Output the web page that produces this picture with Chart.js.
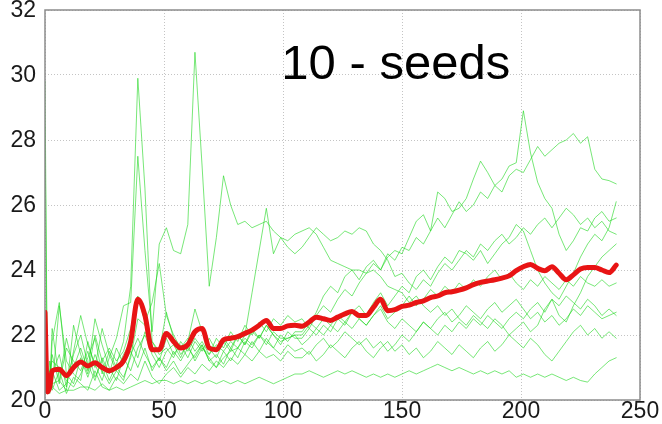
<!DOCTYPE html>
<html>
<head>
<meta charset="utf-8">
<script src="https://cdn.jsdelivr.net/npm/chart.js@4"></script>
<style>
  html, body { margin: 0; padding: 0; background: #ffffff; }
  #wrap { width: 662px; height: 424px; }
</style>
</head>
<body>
<div id="wrap"><canvas id="c" width="662" height="424"></canvas></div>
<script>
// iteration at which each sample was taken
const sampleX = [0, 1, 2, 3,
  6, 9, 12, 15, 18, 21, 24, 27, 30, 33,
  36, 39, 42, 45, 48, 51, 54, 57, 60, 63,
  66, 69, 72, 75, 78, 81, 84, 87, 90, 93,
  96, 99, 102, 105, 108, 111, 114, 117, 120, 123,
  126, 129, 132, 135, 138, 141, 144, 147, 150, 153,
  156, 159, 162, 165, 168, 171, 174, 177, 180, 183,
  186, 189, 192, 195, 198, 201, 204, 207, 210, 213,
  216, 219, 222, 225, 228, 231, 234, 237, 240];

// average over the ten seeds
const meanRun = [22.7, 20.25, 20.4, 20.9,
  20.95, 20.75, 21.0, 21.17, 21.05, 21.15, 21.0, 20.9, 21.0, 21.2,
  21.8, 23.1, 22.6, 21.55, 21.55, 22.05, 21.8, 21.6, 21.7, 22.1,
  22.2, 21.6, 21.55, 21.85, 21.9, 21.95, 22.05, 22.15, 22.3, 22.45,
  22.2, 22.2, 22.28, 22.3, 22.27, 22.4, 22.55, 22.5, 22.45, 22.55,
  22.65, 22.72, 22.6, 22.6, 22.85, 23.1, 22.75, 22.78, 22.88, 22.92,
  23.0, 23.05, 23.15, 23.2, 23.3, 23.33, 23.38, 23.45, 23.55, 23.62,
  23.66, 23.7, 23.75, 23.82, 23.98, 24.1, 24.17, 24.05, 23.98, 24.1,
  23.9, 23.7, 23.85, 24.03, 24.08, 24.08, 24.0, 23.92, 24.15];

// individual seeds
const seed1 = [20.8, 20.3, 20.6, 21.4,
  20.5, 21.6, 21.2, 20.9, 21.5, 20.7, 21.2, 20.6, 21.1, 21.8,
  23.5, 29.9, 26.5, 21.8, 21.4, 21.6, 21.3, 21.8, 21.5, 21.9,
  21.6, 21.4, 21.7, 21.5, 21.8, 21.6, 21.9, 21.7, 22.0, 21.8,
  21.6, 22.0, 21.8, 22.1, 22.1, 22.4, 22.2, 22.5, 22.3, 22.6,
  22.4, 22.7, 22.5, 22.3, 22.6, 22.8, 22.4, 22.2, 22.5, 22.3,
  22.1, 22.4, 22.2, 22.5, 22.7, 22.4, 22.6, 22.9, 22.7, 22.5,
  22.8, 23.0, 22.7, 22.9, 23.1, 22.8, 22.5, 22.7, 22.4, 22.6,
  22.3, 22.5, 22.8, 22.6, 22.9, 22.7, 22.5, 22.6, 22.7];
const seed2 = [21.5, 20.2, 21.2, 20.8,
  21.4, 20.4, 21.5, 22.6, 21.7, 21.1, 20.6, 21.3, 21.9, 22.9,
  23.0, 27.5, 24.6, 22.1, 24.8, 25.3, 24.6, 24.5, 25.4, 30.7,
  27.2, 23.5, 25.0, 26.9, 26.0, 25.4, 25.5, 25.3, 25.4, 25.5,
  25.2, 25.0, 24.9, 25.1, 25.2, 25.3, 25.1, 24.7, 24.3, 24.2,
  24.1, 24.0, 24.0, 23.9, 24.0, 23.8, 23.5, 23.4, 23.3, 23.0,
  23.2, 22.9, 22.7, 22.9, 22.6, 22.8, 22.5, 22.3, 22.6, 22.4,
  22.2, 22.5, 22.3, 22.0, 22.2, 22.4, 22.1, 22.3, 22.8, 23.1,
  22.9, 23.2, 23.0, 22.8, 23.1, 22.9, 22.6, 22.8, 22.6];
const seed3 = [29.8, 20.4, 20.3, 21.8,
  23.0, 20.8, 20.5, 21.3, 20.7, 21.4, 20.9, 20.5, 20.9, 20.6,
  21.4, 21.9, 21.4, 21.0, 21.3, 20.9, 21.2, 20.8, 21.1, 21.4,
  21.7, 21.2, 21.0, 21.3, 21.5, 21.6, 22.0, 23.3, 24.6, 25.9,
  24.5, 25.0, 24.7, 24.5, 24.7, 25.0, 25.3, 25.1, 24.9, 25.0,
  25.2, 25.1, 25.3, 25.2, 24.8, 24.6, 24.3, 23.8, 23.9, 23.6,
  23.4, 23.7, 23.5, 23.9, 24.2, 24.0, 24.3, 24.6, 24.4, 24.8,
  24.6, 24.9, 25.1, 24.8, 25.0, 25.3, 25.1, 25.4, 25.6, 25.3,
  25.6, 25.9, 25.7, 25.4, 25.6, 25.3, 25.5, 25.2, 25.1];
const seed4 = [28.4, 20.2, 20.8, 20.5,
  20.6, 21.9, 21.0, 21.6, 20.9, 22.5, 21.7, 21.0, 20.6, 21.3,
  20.9, 21.6, 22.0, 21.4, 21.0, 21.5, 21.7, 21.3, 21.8, 22.8,
  22.1, 21.6, 21.3, 21.8, 21.5, 22.0, 21.7, 22.1, 21.9, 22.3,
  22.0, 21.8, 21.9, 22.0, 22.0, 22.3, 22.7, 23.2, 23.5, 23.3,
  23.8, 24.0, 23.7, 24.1, 24.3, 24.0, 24.4, 24.6, 24.5, 25.0,
  25.5, 25.7, 25.2, 26.4, 26.2, 25.8, 25.9, 26.2, 26.8, 27.35,
  27.0, 26.6, 26.8, 27.2, 27.3, 28.9, 27.6, 26.7, 26.2, 25.9,
  25.1, 24.6, 24.9, 25.3, 25.2, 25.6, 25.8, 25.5, 25.6];
const seed5 = [22.6, 20.3, 20.4, 22.2,
  20.6, 20.3, 22.3, 21.4, 20.8, 22.0, 21.2, 21.6, 21.2, 21.5,
  22.2, 23.2, 22.4, 23.0, 24.2, 22.6, 22.0, 21.6, 21.9, 21.5,
  21.8, 21.4, 21.9, 21.6, 22.1, 21.8, 22.3, 22.0, 22.4, 22.1,
  22.5, 22.3, 22.6, 22.4, 22.5, 22.2, 22.6, 22.9, 22.7, 23.1,
  23.4, 23.2, 23.6, 23.9, 24.2, 24.0, 24.5, 24.3, 24.7, 24.6,
  25.0, 24.8, 25.2, 25.6, 25.3, 25.7, 26.1, 25.8, 26.0, 26.4,
  26.2, 26.6, 26.4, 26.9, 27.1, 27.0, 27.4, 27.8, 27.5, 27.7,
  27.9, 28.0, 28.2, 27.9, 28.1, 27.1, 26.8, 26.75, 26.65];
const seed6 = [21.0, 20.2, 20.9, 20.4,
  22.9, 21.2, 20.8, 20.6, 21.8, 21.0, 22.2, 21.4, 20.9, 21.4,
  21.8, 21.3, 22.1, 21.6, 21.2, 21.9, 21.4, 21.7, 21.3, 21.8,
  21.5, 21.9, 21.5, 21.9, 21.6, 22.0, 21.7, 22.2, 21.9, 22.3,
  22.0, 21.7, 22.1, 21.9, 21.9, 22.2, 22.0, 22.3, 22.1, 22.5,
  22.3, 22.7, 22.9, 22.6, 23.0, 23.3, 22.9, 23.2, 23.5, 23.3,
  23.8, 24.0, 23.7, 24.1, 24.4, 24.2, 24.6, 24.5, 24.3, 24.6,
  24.2, 24.5, 24.8, 25.0, 25.4, 25.2, 24.6, 24.0, 23.6, 23.3,
  23.1, 23.5, 23.9, 24.4, 24.8, 25.1, 24.9, 25.3, 26.1];
const seed7 = [20.7, 20.3, 20.2, 20.9,
  20.3, 20.5, 21.4, 22.0, 21.1, 20.6, 21.3, 20.8, 21.6, 21.1,
  21.5, 21.0, 21.6, 20.9, 21.3, 21.0, 21.5, 21.2, 21.6, 21.3,
  21.7, 21.2, 21.4, 21.1, 21.6, 21.3, 21.8, 21.6, 22.0, 21.7,
  22.1, 21.9, 21.9, 22.0, 21.7, 21.9, 22.2, 22.0, 22.3, 22.1,
  22.4, 22.2, 22.5, 22.3, 22.6, 22.9, 22.5, 22.7, 22.9, 23.2,
  22.9, 23.1, 23.4, 23.2, 23.5, 23.3, 23.6, 23.4, 23.7, 23.5,
  23.8, 24.0, 23.7, 23.9, 23.6, 23.4, 23.7, 23.5, 23.8, 23.6,
  23.4, 23.7, 23.5, 23.8, 23.6, 23.5, 23.7, 23.5, 23.6];
const seed8 = [20.8, 20.2, 20.9, 21.2,
  21.0, 20.6, 20.4, 20.8, 21.3, 21.9, 20.8, 21.5, 21.0, 20.7,
  21.3, 22.5, 22.3, 21.8, 21.5, 22.7, 21.9, 21.4, 21.7, 21.2,
  21.6, 21.3, 21.0, 21.5, 21.2, 21.6, 21.4, 21.8, 21.5, 21.9,
  21.6, 21.4, 21.7, 21.5, 21.6, 21.4, 21.7, 21.9, 21.6, 21.8,
  22.1, 21.9, 21.7, 21.9, 21.6, 21.8, 21.5, 21.7, 22.0, 21.8,
  22.1, 22.4, 22.2, 22.0, 22.3, 22.1, 22.4, 22.2, 22.5, 22.3,
  22.6, 22.4, 22.2, 22.5, 22.7, 22.5, 22.8, 23.0, 22.7, 23.1,
  22.6, 22.4, 22.9, 23.3, 23.8, 24.1, 24.4, 24.6, 24.8];
const seed9 = [20.9, 20.25, 20.5, 20.3,
  20.9, 20.2, 20.7, 20.5, 20.3, 20.9, 20.4, 20.3, 20.7, 20.5,
  20.8, 20.6, 21.2, 20.7, 20.5, 20.8, 21.0, 20.7, 21.0, 20.8,
  21.1, 20.9, 21.2, 21.0, 21.3, 21.1, 21.4, 21.2, 21.5, 21.3,
  21.4, 21.2, 21.5, 21.3, 21.3, 21.5, 21.2, 21.4, 21.7, 21.5,
  21.3, 21.6, 21.8, 21.5, 21.3, 21.6, 21.8, 21.5, 21.7, 21.4,
  21.6, 21.3, 21.5, 21.8, 21.6, 21.4, 21.7, 21.5, 21.3, 21.6,
  21.8, 21.5, 21.7, 22.0, 21.8, 21.6, 21.9, 21.7, 21.4, 21.2,
  21.5, 21.8, 22.1, 22.3, 22.0, 22.2, 21.9, 22.1, 21.9];
const seed10 = [20.5, 20.2, 20.3, 20.4,
  20.2, 20.3, 20.3, 20.4, 20.4, 20.3, 20.5, 20.3, 20.4, 20.3,
  20.4, 20.5, 20.6, 20.5, 20.6, 20.6, 20.5, 20.6, 20.5, 20.6,
  20.5, 20.6, 20.5, 20.6, 20.5, 20.6, 20.5, 20.6, 20.7, 20.6,
  20.5, 20.6, 20.7, 20.8, 20.8, 20.9, 20.8, 20.7, 20.8, 20.9,
  20.8, 20.9, 20.8, 20.7, 20.8, 20.7, 20.8, 20.7, 20.8, 20.9,
  20.8, 20.9, 21.0, 21.1, 21.0, 20.9, 21.0, 20.9, 20.8, 20.9,
  20.8, 20.9, 20.8, 20.9, 20.7, 20.8, 20.7, 20.8, 20.7, 20.8,
  20.7, 20.6, 20.7, 20.6, 20.55, 20.8, 21.0, 21.2, 21.3];

const seeds = [seed1, seed2, seed3, seed4, seed5, seed6, seed7, seed8, seed9, seed10];

const xTickValues = [0, 50, 100, 150, 200, 250];
const yTickValues = [20, 22, 24, 26, 28, 30, 32];
const titleText = '10 - seeds';

const toPoints = arr => sampleX.map((x, i) => ({ x: x, y: arr[i] }));

const tickFont = { family: '"Liberation Sans", Arial, sans-serif', size: 23, lineHeight: 1 };

// box around the plotting area and the caption inside it
const framePlugin = {
  id: 'frameAndCaption',
  afterDraw(chart) {
    const { ctx, chartArea: a, scales } = chart;
    ctx.save();
    ctx.strokeStyle = '#8c8c8c';
    ctx.lineWidth = 1.5;
    ctx.strokeRect(a.left, a.top, a.right - a.left, a.bottom - a.top);
    ctx.fillStyle = '#000000';
    ctx.font = '49px "Liberation Sans", Arial, sans-serif';
    ctx.textBaseline = 'alphabetic';
    ctx.textAlign = 'left';
    ctx.fillText(titleText, scales.x.getPixelForValue(99.3), scales.y.getPixelForValue(29.87));
    ctx.restore();
  }
};

const datasets = [{
  data: toPoints(meanRun),
  borderColor: '#e81414',
  borderWidth: 5,
  cubicInterpolationMode: 'monotone'
}].concat(seeds.map(s => ({
  data: toPoints(s),
  borderColor: 'rgba(30, 215, 30, 0.6)',
  borderWidth: 1
})));

new Chart(document.getElementById('c'), {
  type: 'line',
  data: { datasets: datasets },
  plugins: [framePlugin],
  options: {
    responsive: false,
    animation: false,
    devicePixelRatio: 1,
    layout: { padding: { top: 10, right: 22, left: 0, bottom: 0 } },
    elements: { point: { radius: 0 }, line: { borderJoinStyle: 'round', borderCapStyle: 'round' } },
    plugins: { legend: { display: false }, tooltip: { enabled: false }, title: { display: false } },
    scales: {
      x: {
        type: 'linear', min: 0, max: 250,
        afterBuildTicks: s => { s.ticks = xTickValues.map(v => ({ value: v })); },
        afterFit: s => { s.height = 24; s.paddingLeft = 0; s.paddingRight = 0; },
        grid: { color: '#c4c4c4', lineWidth: 1, drawTicks: false },
        border: { display: false, dash: [1, 2] },
        ticks: { color: '#1a1a1a', font: tickFont, padding: 0, maxRotation: 0 }
      },
      y: {
        type: 'linear', min: 20, max: 32,
        afterBuildTicks: s => { s.ticks = yTickValues.map(v => ({ value: v })); },
        afterFit: s => { s.width = 45; s.paddingTop = 0; s.paddingBottom = 0; },
        grid: { color: '#c4c4c4', lineWidth: 1, drawTicks: false },
        border: { display: false, dash: [1, 2] },
        ticks: { color: '#1a1a1a', font: tickFont, padding: 9, labelOffset: 1 }
      }
    }
  }
});
</script>
</body>
</html>
